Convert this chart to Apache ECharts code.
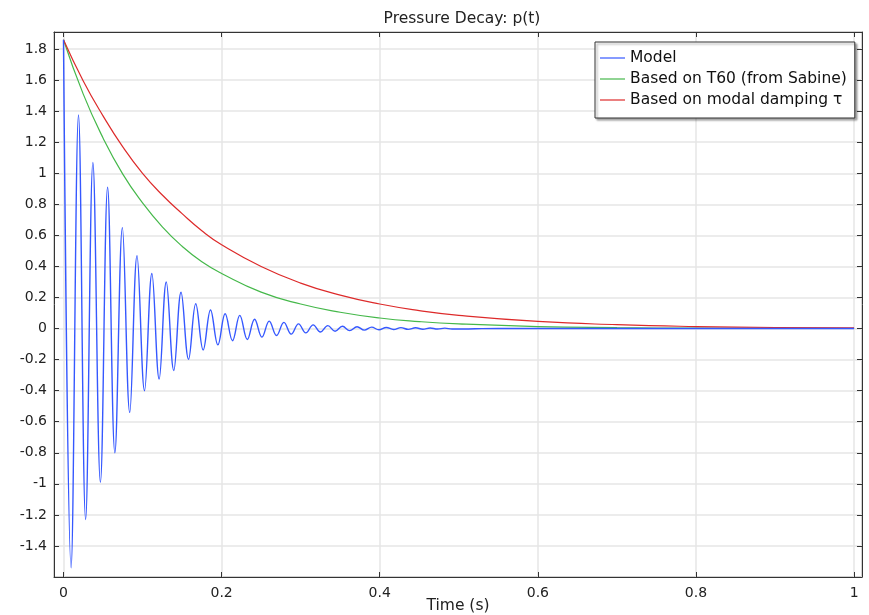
<!DOCTYPE html>
<html>
<head>
<meta charset="utf-8">
<script src="https://cdn.jsdelivr.net/npm/echarts@6/dist/echarts.min.js"></script>
<style>
  html, body { margin: 0; padding: 0; background: #fff; }
  #chart { width: 869px; height: 615px; }
</style>
</head>
<body>
<div id="chart"></div>
<script>
  // model response: extrema of the decaying oscillation
  const modelTime = [
    0.000, 0.0096, 0.0190, 0.0280, 0.0372, 0.0467, 0.0558, 0.0650, 0.0745, 0.0838,
    0.0930, 0.1025, 0.1118, 0.1210, 0.1300, 0.1395, 0.1487, 0.1582, 0.1673, 0.1767,
    0.1860, 0.1953, 0.2045, 0.2138, 0.2230, 0.2325, 0.2417, 0.2510, 0.2602, 0.2695,
    0.2788, 0.2880, 0.2973, 0.3065, 0.3158, 0.3250, 0.3343, 0.3435, 0.3528, 0.3620,
    0.3713, 0.3805, 0.3898, 0.3990, 0.4083, 0.4175, 0.4268, 0.4360, 0.4453, 0.4545,
    0.4638, 0.4730, 0.4823, 0.4915, 0.55, 0.6, 0.7, 0.8, 0.9, 1.0
  ]
  const modelP = [
    1.86, -1.54, 1.375, -1.23, 1.07, -0.99, 0.91, -0.80, 0.65, -0.54,
    0.47, -0.40, 0.355, -0.325, 0.30, -0.27, 0.234, -0.198, 0.16, -0.138,
    0.12, -0.105, 0.095, -0.078, 0.085, -0.07, 0.06, -0.055, 0.048, -0.045,
    0.04, -0.036, 0.03, -0.028, 0.024, -0.022, 0.019, -0.017, 0.015, -0.013,
    0.012, -0.010, 0.009, -0.008, 0.007, -0.006, 0.006, -0.005, 0.005, -0.004,
    0.004, -0.003, 0.003, -0.003, 0.001, 0, 0, 0, 0, 0
  ]

  // envelope curves
  const fitTime = [0, 0.025, 0.05, 0.075, 0.1, 0.125, 0.15, 0.175, 0.2, 0.25, 0.3, 0.35, 0.4, 0.45, 0.5, 0.6, 0.7, 0.8, 0.9, 1.0]
  const sabineP = [1.86, 1.51, 1.228, 0.995, 0.81, 0.655, 0.53, 0.43, 0.355, 0.235, 0.158, 0.105, 0.068, 0.045, 0.030, 0.013, 0.006, 0.0025, 0.001, 0.0005]
  const modalP = [1.86, 1.595, 1.37, 1.17, 1.00, 0.86, 0.74, 0.63, 0.54, 0.40, 0.293, 0.215, 0.158, 0.116, 0.085, 0.046, 0.025, 0.013, 0.007, 0.004]

  const seriesNames = ['Model', 'Based on T60 (from Sabine)', 'Based on modal damping τ']
  const colors = ['#3558ff', '#45b84a', '#dd2a2a']

  const FONT = 'DejaVu Sans'

  function pairs(xs, ys) {
    return xs.map((x, i) => [x, ys[i]])
  }

  let myChart = echarts.init(document.getElementById('chart'), null, { renderer: 'canvas' })

  let axisCommon = {
    axisLine: { show: true, onZero: false, lineStyle: { color: '#333', width: 1 } },
    axisTick: { show: true, inside: true, length: 5, lineStyle: { color: '#333' } }
  }

  let options = {
    animation: false,
    color: colors,
    title: {
      text: 'Pressure Decay: p(t)',
      left: 457,
      textAlign: 'center',
      top: 6,
      textStyle: { fontFamily: FONT, fontSize: 15.5, fontWeight: 'normal', color: '#222' }
    },
    legend: {
      orient: 'vertical',
      left: 595,
      top: 42,
      data: seriesNames,
      icon: 'rect',
      itemWidth: 25,
      itemHeight: 1.2,
      itemGap: 3,
      padding: [7, 8, 9, 5],
      backgroundColor: '#fff',
      borderColor: '#333',
      borderWidth: 1,
      borderRadius: 0,
      shadowColor: 'rgba(0,0,0,0.35)',
      shadowBlur: 2,
      shadowOffsetX: 2,
      shadowOffsetY: 2,
      textStyle: { fontFamily: FONT, fontSize: 15.5, color: '#111', lineHeight: 18 }
    },
    grid: {
      left: 54,
      right: 7,
      top: 32,
      bottom: 38,
      outerBoundsMode: 'none',
      show: true,
      borderColor: '#333',
      borderWidth: 1
    },
    xAxis: [
      Object.assign({
        type: 'value',
        min: -0.012,
        max: 1.01,
        splitNumber: 5,
        name: 'Time (s)',
        nameLocation: 'middle',
        nameGap: 21,
        nameMoveOverlap: false,
        nameTextStyle: { fontFamily: FONT, fontSize: 15.5, color: '#222' },
        axisLabel: {
          showMinLabel: false, showMaxLabel: false, margin: 9,
          fontFamily: FONT, fontSize: 14, color: '#222'
        },
        splitLine: { show: true, lineStyle: { color: '#e6e6e6', width: 1.5 } }
      }, axisCommon),
      Object.assign({
        type: 'value',
        position: 'top',
        min: -0.012,
        max: 1.01,
        splitNumber: 5,
        axisLabel: { show: false },
        splitLine: { show: false }
      }, axisCommon)
    ],
    yAxis: [
      Object.assign({
        type: 'value',
        min: -1.6,
        max: 1.91,
        interval: 0.2,
        axisLabel: {
          showMinLabel: false, showMaxLabel: false, margin: 7,
          fontFamily: FONT, fontSize: 14, color: '#222'
        },
        splitLine: { show: true, lineStyle: { color: '#e6e6e6', width: 1.5 } }
      }, axisCommon),
      Object.assign({
        type: 'value',
        position: 'right',
        min: -1.6,
        max: 1.91,
        interval: 0.2,
        axisLabel: { show: false },
        splitLine: { show: false }
      }, axisCommon)
    ],
    series: [
      {
        name: seriesNames[0],
        type: 'line',
        data: pairs(modelTime, modelP),
        smooth: 0.4,
        showSymbol: false,
        symbol: 'none',
        z: 3,
        lineStyle: { width: 1.4, color: colors[0] }
      },
      {
        name: seriesNames[1],
        type: 'line',
        data: pairs(fitTime, sabineP),
        smooth: 0.5,
        showSymbol: false,
        symbol: 'none',
        z: 2,
        lineStyle: { width: 1.2, color: colors[1] }
      },
      {
        name: seriesNames[2],
        type: 'line',
        data: pairs(fitTime, modalP),
        smooth: 0.5,
        showSymbol: false,
        symbol: 'none',
        z: 2,
        lineStyle: { width: 1.2, color: colors[2] }
      }
    ]
  }

  myChart.setOption(options)
</script>
</body>
</html>
